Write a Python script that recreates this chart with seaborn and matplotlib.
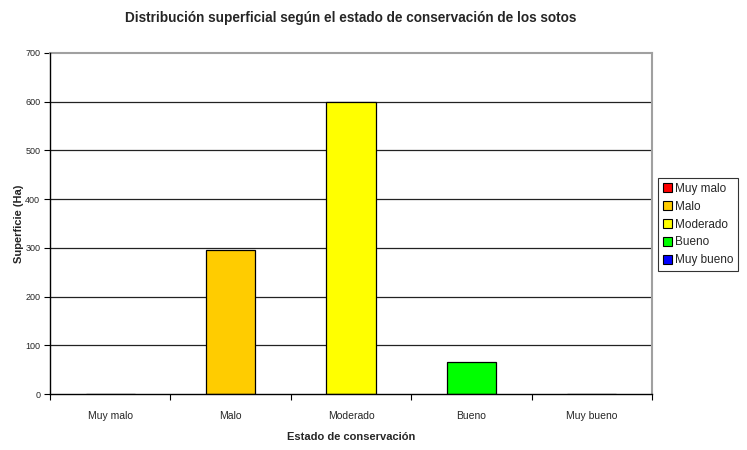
import matplotlib
matplotlib.use("Agg")
import matplotlib.pyplot as plt
from matplotlib.patches import Patch
from matplotlib.ticker import FixedLocator, NullFormatter
import seaborn as sns
import pandas as pd

categories = ["Muy malo", "Malo", "Moderado", "Bueno", "Muy bueno"]
superficie = [0, 295, 600, 65, 0]
colors = ["#FF0000", "#FFCC00", "#FFFF00", "#00FF00", "#0000FF"]
y_ticks = [0, 100, 200, 300, 400, 500, 600, 700]

df = pd.DataFrame({"Estado": categories, "Superficie": superficie})

sns.set_style("white")
plt.rcParams["font.family"] = ["Liberation Sans", "DejaVu Sans"]

fig = plt.figure(figsize=(7.47, 4.5), dpi=100)
ax = fig.add_axes([50 / 747, 56 / 450, 602 / 747, 341 / 450])

palette = dict(zip(categories, colors))
sns.barplot(data=df, x="Estado", y="Superficie", hue="Estado", order=categories,
            hue_order=categories, palette=palette, dodge=False, width=0.41,
            edgecolor="black", linewidth=0.9, saturation=1, legend=False, ax=ax)

ax.set_xlim(-0.5, len(categories) - 0.5)
ax.set_ylim(0, 700)
ax.set_yticks(y_ticks)
ax.set_yticklabels([str(v) for v in y_ticks], fontsize=6.5)

# category boundaries carry the tick marks, labels sit at the centres
ax.xaxis.set_major_locator(FixedLocator([i - 0.5 for i in range(len(categories) + 1)]))
ax.xaxis.set_major_formatter(NullFormatter())
ax.xaxis.set_minor_locator(FixedLocator(list(range(len(categories)))))
ax.set_xticklabels(categories, minor=True, fontsize=7.5)
ax.tick_params(axis="x", which="major", length=4, width=0.8, color="black", direction="out", bottom=True)
ax.tick_params(axis="x", which="minor", length=0, pad=12)
ax.tick_params(axis="y", length=4, width=0.8, color="black", direction="out", left=True, pad=3)

for v in y_ticks[1:-1]:
    ax.axhline(v, color="#222222", linewidth=0.9, zorder=0.5)

for side in ["left", "bottom"]:
    ax.spines[side].set_color("black")
    ax.spines[side].set_linewidth(1.0)
    ax.spines[side].set_zorder(3)
for side in ["top", "right"]:
    ax.spines[side].set_visible(True)
    ax.spines[side].set_color("#a0a0a0")
    ax.spines[side].set_linewidth(1.5)

ax.set_xlabel("Estado de conservación", fontsize=8, fontweight="bold", labelpad=8)
ax.set_ylabel("Superficie (Ha)", fontsize=8, fontweight="bold", labelpad=1)

ax.set_title("Distribución superficial según el estado de conservación de los sotos",
             fontsize=9.8, fontweight="bold", pad=22)

handles = [Patch(facecolor=c, edgecolor="black", linewidth=0.8) for c in colors]
leg = fig.legend(handles, categories, loc="upper left",
                 bbox_to_anchor=(658 / 747, 1 - 178 / 450), fontsize=8.5,
                 frameon=True, fancybox=False, edgecolor="black",
                 handlelength=0.75, handleheight=0.75, handletextpad=0.3,
                 borderpad=0.4, labelspacing=0.5, borderaxespad=0)
leg.get_frame().set_linewidth(0.8)

fig.savefig("out.png", dpi=100, facecolor="white")
